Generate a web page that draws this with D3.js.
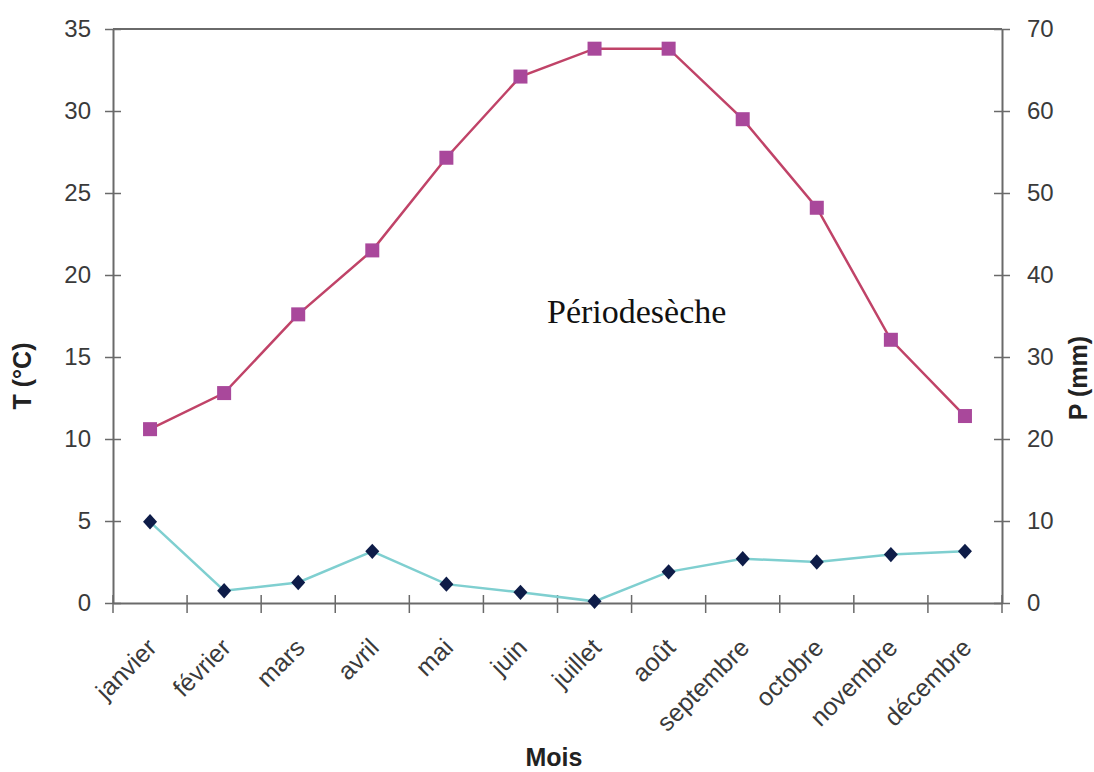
<!DOCTYPE html>
<html>
<head>
<meta charset="utf-8">
<script src="https://cdn.jsdelivr.net/npm/d3@7"></script>
<style>
  html, body { margin: 0; padding: 0; background: #fff; }
  svg { display: block; }
</style>
</head>
<body>
<svg id="chart" width="1094" height="772"></svg>
<script>
const months = ["janvier","février","mars","avril","mai","juin","juillet","août","septembre","octobre","novembre","décembre"];
const temperature = [10.6, 12.8, 17.6, 21.5, 27.15, 32.1, 33.8, 33.8, 29.5, 24.1, 16.05, 11.4];
const precipitation = [9.9, 1.5, 2.5, 6.3, 2.3, 1.3, 0.2, 3.8, 5.4, 5.0, 5.9, 6.3];
const tTicks = [0, 5, 10, 15, 20, 25, 30, 35];
const pTicks = [0, 10, 20, 30, 40, 50, 60, 70];

const svg = d3.select("#chart");
const L = 113, R = 1002, T = 29, B = 603;

const x = d3.scaleBand().domain(months).range([L, R]).padding(0);
const yT = d3.scaleLinear().domain([0, 35]).range([B, T]);
const yP = d3.scaleLinear().domain([0, 70]).range([B, T]);
const cx = d => x(d) + x.bandwidth() / 2;

const axisColor = "#6a6a6a";
const labelColor = "#3a3a3a";
const tickFont = "'Liberation Sans', Arial, sans-serif";

// top border
svg.append("line").attr("x1", L).attr("x2", R).attr("y1", T).attr("y2", T)
  .attr("stroke", axisColor).attr("stroke-width", 2);

// left axis
const gl = svg.append("g").attr("transform", `translate(${L},0)`)
  .call(d3.axisLeft(yT).tickValues(tTicks).tickSize(8).tickPadding(14).tickSizeOuter(0));
gl.selectAll(".tick line").attr("x1", -8).attr("x2", 8);

// right axis
const gr = svg.append("g").attr("transform", `translate(${R},0)`)
  .call(d3.axisRight(yP).tickValues(pTicks).tickSize(8).tickPadding(17).tickSizeOuter(0));
gr.selectAll(".tick line").attr("x1", -8).attr("x2", 8);

// bottom axis
const gb = svg.append("g").attr("transform", `translate(0,${B})`)
  .call(d3.axisBottom(x).tickSize(0).tickSizeOuter(0).tickPadding(0));
// band-boundary tick marks
const edges = months.map(m => x(m)).concat([x(months[months.length-1]) + x.bandwidth()]);
gb.selectAll("line.edge").data(edges).join("line").attr("class", "edge")
  .attr("x1", d => d).attr("x2", d => d).attr("y1", -8).attr("y2", 10)
  .attr("stroke", axisColor).attr("stroke-width", 1.5);

[gl, gr, gb].forEach(g => {
  g.select(".domain").attr("stroke", axisColor).attr("stroke-width", 2);
  g.selectAll(".tick line").attr("stroke", axisColor).attr("stroke-width", 1.5);
  g.selectAll(".tick text").attr("fill", labelColor)
    .style("font-family", tickFont).style("font-size", "24px");
});
gb.selectAll(".tick text")
  .style("font-size", "25px")
  .attr("text-anchor", "end")
  .attr("transform", "translate(2,40) rotate(-45)")
  .attr("dy", "0.35em")
  .attr("y", 0);

// precipitation line (right axis)
svg.append("path").datum(precipitation)
  .attr("fill", "none").attr("stroke", "#7fcfd0").attr("stroke-width", 2.5)
  .attr("d", d3.line().x((d, i) => cx(months[i])).y(d => yP(d)));
svg.selectAll("path.diamond").data(precipitation).join("path").attr("class", "diamond")
  .attr("d", d3.symbol().type(d3.symbolDiamond2).size(125))
  .attr("transform", (d, i) => `translate(${cx(months[i])},${yP(d)}) scale(1,1.1)`)
  .attr("fill", "#0e1c48");

// temperature line (left axis)
svg.append("path").datum(temperature)
  .attr("fill", "none").attr("stroke", "#c04368").attr("stroke-width", 2.5)
  .attr("d", d3.line().x((d, i) => cx(months[i])).y(d => yT(d)));
svg.selectAll("rect.sq").data(temperature).join("rect").attr("class", "sq")
  .attr("x", (d, i) => cx(months[i]) - 7).attr("y", d => yT(d) - 7)
  .attr("width", 14).attr("height", 14)
  .attr("fill", "#a9489b");

// annotation
svg.append("text").attr("x", 547).attr("y", 323)
  .style("font-family", "'Liberation Serif', 'Times New Roman', serif")
  .style("font-size", "34px").attr("fill", "#111")
  .text("Périodesèche");

// axis titles
svg.append("text").attr("transform", "translate(31,376) rotate(-90)")
  .attr("text-anchor", "middle")
  .style("font-family", tickFont).style("font-size", "25px").style("font-weight", "bold")
  .attr("fill", "#222").text("T (°C)");
svg.append("text").attr("transform", "translate(1087,378) rotate(-90)")
  .attr("text-anchor", "middle")
  .style("font-family", tickFont).style("font-size", "25px").style("font-weight", "bold")
  .attr("fill", "#222").text("P (mm)");
svg.append("text").attr("x", 554).attr("y", 766)
  .attr("text-anchor", "middle")
  .style("font-family", tickFont).style("font-size", "25px").style("font-weight", "bold")
  .attr("fill", "#222").text("Mois");
</script>
</body>
</html>
